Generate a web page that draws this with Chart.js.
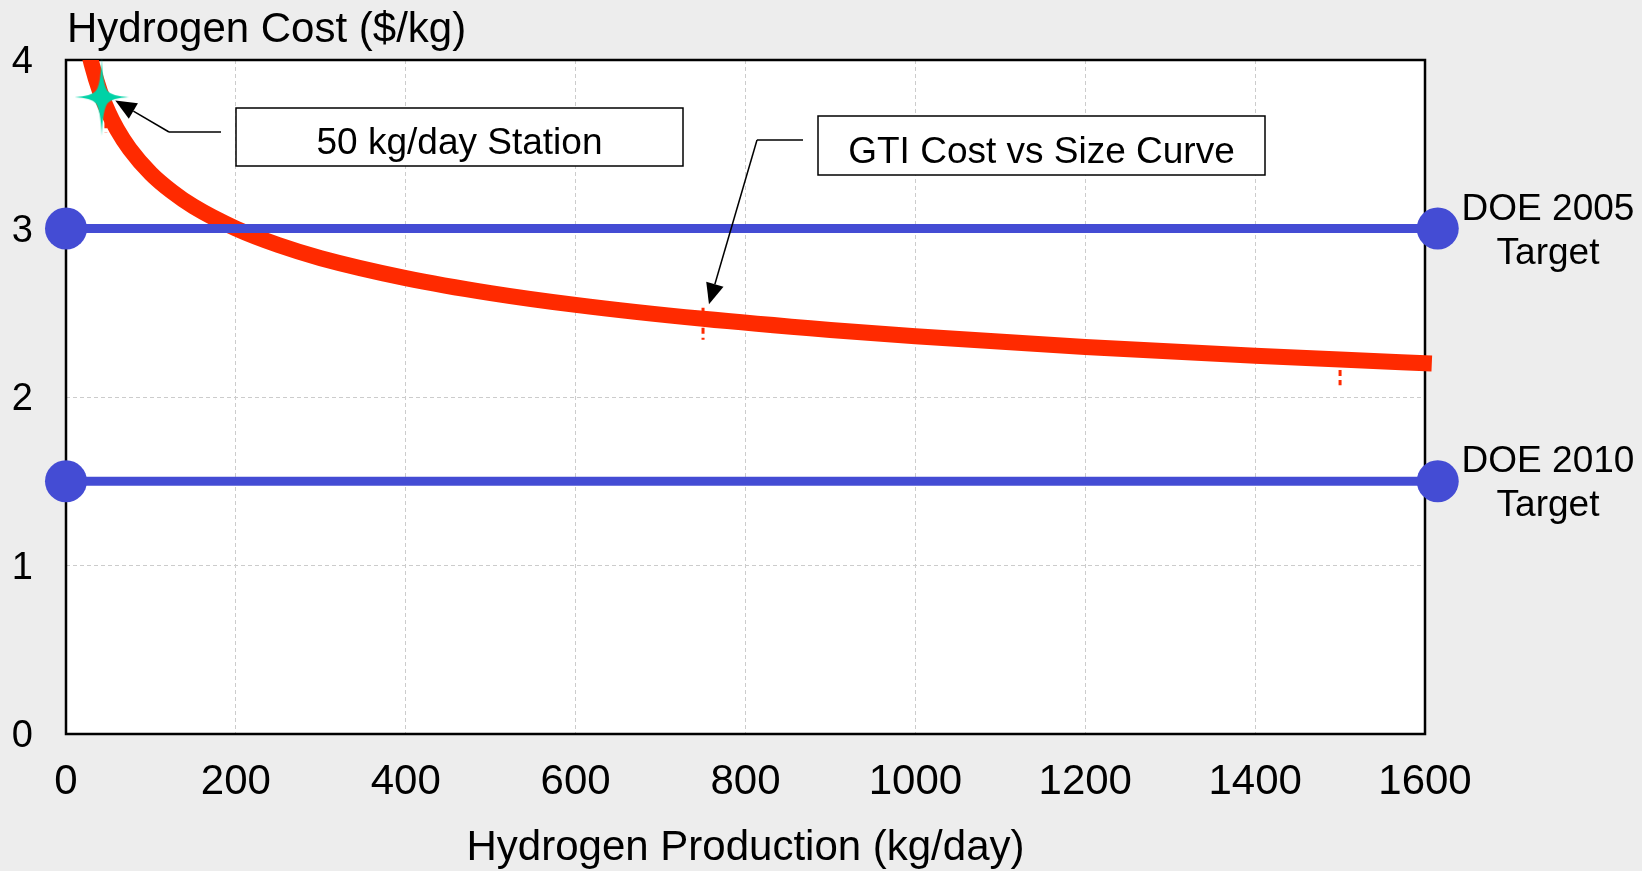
<!DOCTYPE html>
<html>
<head>
<meta charset="utf-8">
<title>Hydrogen Cost vs Production</title>
<script src="https://cdn.jsdelivr.net/npm/chart.js@4.4.1/dist/chart.umd.min.js"></script>
<style>
  html, body { margin: 0; padding: 0; background: #ededed; }
  #wrap { width: 1642px; height: 871px; position: relative; }
</style>
</head>
<body>
<div id="wrap"><canvas id="costChart"></canvas></div>
<script>
// tick labels
const xTicks = [0, 200, 400, 600, 800, 1000, 1200, 1400, 1600];
const yTicks = [0, 1, 2, 3, 4];

// GTI cost vs size curve
const curveSize = [27, 30, 40, 50, 60, 75, 100, 125, 150, 200, 250, 300, 400, 500, 600, 750, 900, 1000, 1200, 1400, 1500, 1608];
const curveCost = [4.043, 3.980, 3.813, 3.688, 3.589, 3.472, 3.326, 3.218, 3.131, 3.000, 2.902, 2.824, 2.706, 2.617, 2.547, 2.464, 2.398, 2.360, 2.297, 2.245, 2.222, 2.199];

// small dashed ranges under the curve
const rangeSize = [47, 750, 1500];
const rangeHigh = [3.75, 2.53, 2.22];
const rangeLow = [3.57, 2.34, 2.07];

// 50 kg/day station marker
const stationSize = [42];
const stationCost = [3.78];

// DOE targets
const targetNames = [['DOE 2005', 'Target'], ['DOE 2010', 'Target']];
const targetCost = [3.0, 1.5];
const targetSpan = [0, 1615];

const FONT = '"Liberation Sans", Arial, sans-serif';
const RED = '#ff2a00';
const BLUE = '#444cd4';
const GREEN = '#00d2a6';

// four point star used as the station marker
const starImg = document.createElement('canvas');
starImg.width = 54;
starImg.height = 78;
(function() {
    const s = starImg.getContext('2d');
    const cx = 27, cy = 39, w = 6;
    s.fillStyle = GREEN;
    s.beginPath();
    s.moveTo(cx, 0);
    s.quadraticCurveTo(cx + 1, cy - 12, cx + w, cy - w);
    s.quadraticCurveTo(cx + 10, cy - 1, 54, cy);
    s.quadraticCurveTo(cx + 10, cy + 1, cx + w, cy + w);
    s.quadraticCurveTo(cx + 1, cy + 12, cx, 78);
    s.quadraticCurveTo(cx - 1, cy + 12, cx - w, cy + w);
    s.quadraticCurveTo(cx - 10, cy + 1, 0, cy);
    s.quadraticCurveTo(cx - 10, cy - 1, cx - w, cy - w);
    s.quadraticCurveTo(cx - 1, cy - 12, cx, 0);
    s.closePath();
    s.fill();
})();

const curvePoints = curveSize.map((x, i) => ({ x: x, y: curveCost[i] }));
const rangePoints = rangeSize.flatMap((x, i) => [
    { x: x, y: rangeHigh[i] },
    { x: x, y: rangeLow[i] },
    { x: x, y: null }
]);
const stationPoints = stationSize.map((x, i) => ({ x: x, y: stationCost[i] }));

// callout boxes, arrow tips are in data units
const callouts = [
    { text: '50 kg/day Station', box: [236, 108, 447, 58], baseline: 154, elbow: [[221, 132], [169, 132]], tip: [58, 3.76] },
    { text: 'GTI Cost vs Size Curve', box: [818, 116, 447, 59], baseline: 163, elbow: [[803, 140], [757, 140]], tip: [757, 2.55] }
];

const backgroundPlugin = {
    id: 'background',
    beforeDraw(chart) {
        const { ctx, chartArea: a } = chart;
        ctx.save();
        ctx.fillStyle = '#ededed';
        ctx.fillRect(0, 0, chart.width, chart.height);
        ctx.fillStyle = '#ffffff';
        ctx.fillRect(a.left, a.top, a.right - a.left, a.bottom - a.top);
        ctx.restore();
    },
    beforeDatasetsDraw(chart) {
        const { ctx, chartArea: a } = chart;
        ctx.save();
        ctx.strokeStyle = '#000';
        ctx.lineWidth = 2.5;
        ctx.strokeRect(a.left, a.top, a.right - a.left, a.bottom - a.top);
        ctx.restore();
    }
};

function drawArrow(ctx, fx, fy, tx, ty) {
    const ang = Math.atan2(ty - fy, tx - fx);
    const len = 21, half = 9;
    const bx = tx - len * Math.cos(ang), by = ty - len * Math.sin(ang);
    ctx.beginPath();
    ctx.moveTo(fx, fy);
    ctx.lineTo(bx, by);
    ctx.stroke();
    ctx.beginPath();
    ctx.moveTo(tx, ty);
    ctx.lineTo(bx + half * Math.sin(ang), by - half * Math.cos(ang));
    ctx.lineTo(bx - half * Math.sin(ang), by + half * Math.cos(ang));
    ctx.closePath();
    ctx.fill();
}

const labelsPlugin = {
    id: 'labels',
    afterDatasetsDraw(chart) {
        const { ctx, scales } = chart;
        ctx.save();
        ctx.fillStyle = '#000';
        ctx.strokeStyle = '#000';

        // y axis title, horizontal above the plot
        ctx.font = '42px ' + FONT;
        ctx.textAlign = 'left';
        ctx.textBaseline = 'alphabetic';
        ctx.fillText('Hydrogen Cost ($/kg)', 67, 42);

        // DOE target labels on the right
        ctx.font = '37px ' + FONT;
        ctx.textAlign = 'center';
        targetNames.forEach((lines, i) => {
            const py = scales.y.getPixelForValue(targetCost[i]);
            ctx.fillText(lines[0], 1548, py - 9);
            ctx.fillText(lines[1], 1548, py + 35);
        });

        // callouts
        callouts.forEach(c => {
            const [bx, by, bw, bh] = c.box;
            ctx.fillStyle = '#fff';
            ctx.fillRect(bx, by, bw, bh);
            ctx.lineWidth = 1.5;
            ctx.strokeRect(bx, by, bw, bh);
            ctx.fillStyle = '#000';
            ctx.font = '37px ' + FONT;
            ctx.textAlign = 'center';
            ctx.fillText(c.text, bx + bw / 2, c.baseline);

            const tx = scales.x.getPixelForValue(c.tip[0]);
            const ty = scales.y.getPixelForValue(c.tip[1]);
            ctx.lineWidth = 1.5;
            ctx.beginPath();
            ctx.moveTo(c.elbow[0][0], c.elbow[0][1]);
            ctx.lineTo(c.elbow[1][0], c.elbow[1][1]);
            ctx.stroke();
            drawArrow(ctx, c.elbow[1][0], c.elbow[1][1], tx, ty);
        });
        ctx.restore();
    }
};

const ctx = document.getElementById('costChart');
new Chart(ctx, {
    type: 'line',
    data: {
        datasets: [
            {
                label: '50 kg/day Station',
                data: stationPoints,
                showLine: false,
                pointStyle: starImg,
                pointRadius: 10,
                clip: false,
                order: 0
            },
            {
                label: 'DOE 2005 Target',
                data: targetSpan.map(x => ({ x: x, y: targetCost[0] })),
                borderColor: BLUE,
                borderWidth: 9,
                pointRadius: 21,
                pointBackgroundColor: BLUE,
                pointBorderWidth: 0,
                clip: false,
                order: 1
            },
            {
                label: 'DOE 2010 Target',
                data: targetSpan.map(x => ({ x: x, y: targetCost[1] })),
                borderColor: BLUE,
                borderWidth: 9,
                pointRadius: 21,
                pointBackgroundColor: BLUE,
                pointBorderWidth: 0,
                clip: false,
                order: 2
            },
            {
                label: 'GTI Cost vs Size Curve',
                data: curvePoints,
                borderColor: RED,
                borderWidth: 16,
                borderJoinStyle: 'round',
                pointRadius: 0,
                cubicInterpolationMode: 'monotone',
                clip: { left: 0, top: 0, right: 12, bottom: 0 },
                order: 3
            },
            {
                label: 'range',
                data: rangePoints,
                borderColor: RED,
                borderWidth: 3,
                borderDash: [6, 4],
                pointRadius: 0,
                spanGaps: false,
                clip: false,
                order: 4
            }
        ]
    },
    options: {
        responsive: true,
        maintainAspectRatio: false,
        animation: false,
        events: [],
        layout: {
            padding: { left: 0, top: 60, right: 217, bottom: 0 }
        },
        scales: {
            x: {
                type: 'linear',
                min: 0,
                max: 1600,
                afterBuildTicks: s => { s.ticks = xTicks.map(v => ({ value: v })); },
                afterFit: s => { s.height = 137; },
                grid: { color: '#cccccc', lineWidth: 1, drawTicks: false },
                border: { display: false, dash: [4, 3] },
                ticks: {
                    font: { family: FONT, size: 42 },
                    color: '#000',
                    padding: 23,
                    maxRotation: 0,
                    autoSkip: false,
                    callback: v => String(v)
                },
                title: {
                    display: true,
                    text: 'Hydrogen Production (kg/day)',
                    font: { family: FONT, size: 42 },
                    color: '#000',
                    padding: { top: 0, bottom: -3 }
                }
            },
            y: {
                type: 'linear',
                min: 0,
                max: 4,
                afterBuildTicks: s => { s.ticks = yTicks.map(v => ({ value: v })); },
                afterFit: s => { s.width = 66; },
                grid: { color: '#cccccc', lineWidth: 1, drawTicks: false },
                border: { display: false, dash: [4, 3] },
                ticks: {
                    font: { family: FONT, size: 38 },
                    color: '#000',
                    padding: 33,
                    labelOffset: 3,
                    callback: v => String(v)
                }
            }
        },
        plugins: {
            legend: { display: false },
            tooltip: { enabled: false }
        }
    },
    plugins: [backgroundPlugin, labelsPlugin]
});
</script>
</body>
</html>
